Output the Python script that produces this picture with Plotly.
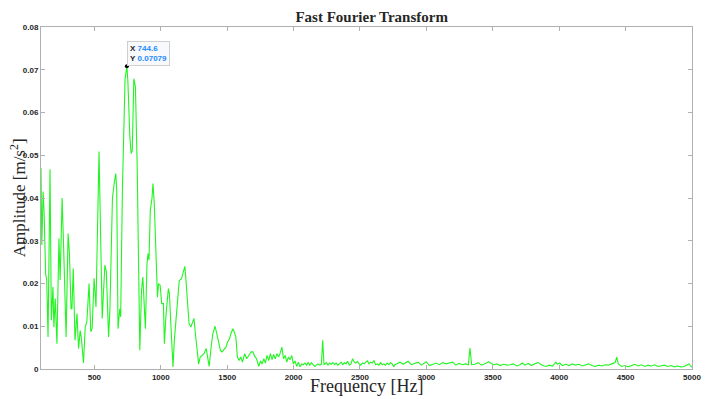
import plotly.graph_objects as go

# single-sided FFT amplitude
freq_hz = [
    98, 104, 114, 121, 133, 141, 151, 166, 176, 188, 195, 205, 218, 233, 242, 257,
    269, 287, 302, 312, 324, 331, 341, 354, 369, 381, 393, 403, 418, 431, 443, 460,
    473, 483, 498, 512, 535, 547, 559, 567, 579, 590, 607, 617, 636, 649, 661, 668,
    678, 691, 698, 711, 723, 731, 744.6, 752, 767, 777, 785, 797, 809, 822, 842, 855,
    865, 877, 884, 896, 904, 911, 921, 934, 941, 951, 963, 975, 983, 995, 1007, 1020,
    1027, 1040, 1057, 1065, 1075, 1092, 1102, 1112, 1127, 1139, 1156, 1168, 1176, 1181,
    1188, 1201, 1213, 1226, 1238, 1250, 1263, 1275, 1285, 1297, 1312, 1325, 1342, 1354,
    1364, 1379, 1392, 1409, 1421, 1434, 1449, 1461, 1474, 1491, 1503, 1518, 1528, 1543,
    1553, 1565, 1577, 1590, 1602, 1615, 1632, 1647, 1664, 1681, 1694, 1706, 1721, 1738,
    1751, 1763, 1776, 1788, 1800, 1813, 1825, 1838, 1850, 1862, 1875, 1887, 1899, 1912,
    1924, 1937, 1949, 1961, 1974, 1986, 1998, 2011, 2023, 2036, 2048, 2060, 2073, 2085,
    2098, 2110, 2122, 2135, 2147, 2160, 2172, 2184, 2197, 2209, 2219, 2229, 2246, 2259,
    2271, 2283, 2296, 2308, 2320, 2333, 2345, 2358, 2370, 2382, 2395, 2407, 2420, 2432,
    2444, 2457, 2469, 2481, 2494, 2506, 2519, 2531, 2543, 2556, 2568, 2581, 2593, 2605,
    2618, 2630, 2643, 2655, 2667, 2680, 2692, 2704, 2717, 2729, 2742, 2754, 2763, 2788,
    2801, 2825, 2850, 2862, 2887, 2912, 2937, 2962, 2986, 2999, 3023, 3048, 3073, 3098,
    3123, 3147, 3172, 3197, 3222, 3246, 3271, 3296, 3316, 3328, 3341, 3365, 3390, 3415,
    3440, 3469, 3489, 3506, 3531, 3556, 3581, 3606, 3630, 3655, 3680, 3705, 3722, 3742,
    3767, 3791, 3816, 3841, 3866, 3876, 3901, 3925, 3950, 3975, 3987, 4005, 4024, 4049,
    4074, 4099, 4123, 4148, 4173, 4198, 4223, 4247, 4272, 4297, 4322, 4346, 4371, 4396,
    4421, 4433, 4445, 4470, 4495, 4520, 4545, 4569, 4594, 4619, 4644, 4669, 4693, 4718,
    4743, 4768, 4792, 4817, 4842, 4867, 4891, 4916, 4941, 4966, 4978, 4990, 5000,
]
amplitude = [
    0.0470, 0.0290, 0.0415, 0.0370, 0.0223, 0.0208, 0.0075, 0.0467, 0.0114, 0.0192,
    0.0098, 0.0165, 0.0059, 0.0305, 0.0208, 0.0400, 0.0278, 0.0075, 0.0317, 0.0270,
    0.0141, 0.0141, 0.0235, 0.0067, 0.0130, 0.0048, 0.0090, 0.0070, 0.0014, 0.0098,
    0.0110, 0.0200, 0.0087, 0.0095, 0.0212, 0.0145, 0.0509, 0.0340, 0.0118, 0.0170,
    0.0243, 0.0227, 0.0075, 0.0140, 0.0400, 0.0434, 0.0457, 0.0420, 0.0094, 0.0141,
    0.0122, 0.0420, 0.0629, 0.0679, 0.07079, 0.0675, 0.0543, 0.0504, 0.0510, 0.0679,
    0.0660, 0.0480, 0.0044, 0.0184, 0.0215, 0.0150, 0.0094, 0.0246, 0.0270, 0.0255,
    0.0371, 0.0400, 0.0434, 0.0387, 0.0293, 0.0168, 0.0200, 0.0196, 0.0153, 0.0153,
    0.0059, 0.0130, 0.0188, 0.0176, 0.0110, 0.0005, 0.0067, 0.0106, 0.0160, 0.0207,
    0.0211, 0.0223, 0.0231, 0.0240, 0.0215, 0.0153, 0.0106, 0.0098, 0.0110, 0.0118,
    0.0075, 0.0031, 0.0012, 0.0028, 0.0032, 0.0036, 0.0048, 0.0020, 0.0006, 0.0051,
    0.0083, 0.0100, 0.0083, 0.0063, 0.0044, 0.0040, 0.0044, 0.0051, 0.0063, 0.0071,
    0.0083, 0.0094, 0.0087, 0.0075, 0.0028, 0.0020, 0.0028, 0.0016, 0.0036, 0.0024,
    0.0032, 0.0040, 0.0040, 0.0030, 0.0024, 0.0006, 0.0019, 0.0012, 0.0024, 0.0014,
    0.0032, 0.0020, 0.0036, 0.0022, 0.0034, 0.0024, 0.0036, 0.0028, 0.0037, 0.0051,
    0.0024, 0.0032, 0.0016, 0.0028, 0.0022, 0.0032, 0.0012, 0.0019, 0.0006, 0.0016,
    0.0005, 0.0012, 0.0010, 0.0014, 0.0009, 0.0016, 0.0009, 0.0015, 0.0010, 0.0006,
    0.0009, 0.0012, 0.0009, 0.0011, 0.0067, 0.0010, 0.0015, 0.0009, 0.0014, 0.0011,
    0.0015, 0.0010, 0.0014, 0.0009, 0.0012, 0.0016, 0.0010, 0.0015, 0.0012, 0.0018,
    0.0009, 0.0012, 0.0024, 0.0016, 0.0014, 0.0018, 0.0012, 0.0009, 0.0014, 0.0012,
    0.0016, 0.0019, 0.0012, 0.0016, 0.0014, 0.0020, 0.0010, 0.0012, 0.0009, 0.0015,
    0.0010, 0.0012, 0.0009, 0.0014, 0.0010, 0.0015, 0.0012, 0.0005, 0.0010, 0.0014,
    0.0016, 0.0011, 0.0015, 0.0018, 0.0010, 0.0013, 0.0016, 0.0009, 0.0014, 0.0017,
    0.0008, 0.0011, 0.0014, 0.0010, 0.0015, 0.0012, 0.0014, 0.0016, 0.0009, 0.0013,
    0.0010, 0.0012, 0.0010, 0.0049, 0.0010, 0.0011, 0.0015, 0.0009, 0.0012, 0.0017,
    0.0013, 0.0010, 0.0012, 0.0008, 0.0011, 0.0009, 0.0010, 0.0012, 0.0007, 0.0010,
    0.0014, 0.0009, 0.0013, 0.0008, 0.0012, 0.0015, 0.0010, 0.0008, 0.0006, 0.0009,
    0.0007, 0.0016, 0.0011, 0.0014, 0.0008, 0.0011, 0.0008, 0.0012, 0.0009, 0.0011,
    0.0007, 0.0010, 0.0012, 0.0008, 0.0006, 0.0009, 0.0007, 0.0010, 0.0009, 0.0012,
    0.0015, 0.0028, 0.0012, 0.0006, 0.0008, 0.0005, 0.0009, 0.0011, 0.0007, 0.0010,
    0.0006, 0.0009, 0.0007, 0.0010, 0.0006, 0.0008, 0.0009, 0.0006, 0.0008, 0.0005,
    0.0007, 0.0005, 0.0006, 0.0010, 0.0012, 0.0007, 0.0004,
]

x_ticks = [500, 1000, 1500, 2000, 2500, 3000, 3500, 4000, 4500, 5000]
y_ticks = [0, 0.01, 0.02, 0.03, 0.04, 0.05, 0.06, 0.07, 0.08]

peak_f = 744.6
peak_a = 0.07079

axis_col = "#b0b0b0"
tick_font = dict(family="Liberation Sans", size=8, color="#262626", weight="bold")
serif = "Liberation Serif"

fig = go.Figure()
fig.add_trace(
    go.Scatter(
        x=freq_hz,
        y=amplitude,
        mode="lines",
        line=dict(color="#22f522", width=1.1),
        hoverinfo="skip",
    )
)
# datatip point
fig.add_trace(
    go.Scatter(
        x=[peak_f],
        y=[peak_a],
        mode="markers",
        marker=dict(color="black", size=4),
        hoverinfo="skip",
    )
)

fig.add_annotation(
    x=peak_f,
    y=peak_a,
    xref="x",
    yref="y",
    xanchor="left",
    yanchor="bottom",
    showarrow=False,
    align="left",
    text=(
        f"<b>X</b> <span style='color:#1a8cff'><b>{peak_f}</b></span><br>"
        f"<b>Y</b> <span style='color:#1a8cff'><b>{peak_a}</b></span>"
    ),
    font=dict(family="Liberation Sans", size=8, color="#262626"),
    bgcolor="rgba(248,249,252,1)",
    bordercolor="#cfcfcf",
    borderwidth=1,
    borderpad=2,
)

# axis labels placed by hand, like matlab does it
fig.add_annotation(
    text="Frequency [Hz]",
    xref="paper", yref="paper",
    x=0.5, y=-0.05,
    xanchor="center", yanchor="middle",
    showarrow=False,
    font=dict(family=serif, size=18, color="#262626"),
)
fig.add_annotation(
    text="Amplitude [m/s<sup>2</sup>]",
    xref="paper", yref="paper",
    x=-0.035, y=0.5,
    xanchor="center", yanchor="middle",
    textangle=-90,
    showarrow=False,
    font=dict(family=serif, size=17, color="#262626"),
)

fig.update_layout(
    width=712,
    height=399,
    autosize=False,
    showlegend=False,
    paper_bgcolor="white",
    plot_bgcolor="white",
    margin=dict(l=41, r=11, t=27, b=30),
    title=dict(
        text="<b>Fast Fourier Transform</b>",
        x=0.522,
        xanchor="center",
        y=0.957,
        yanchor="middle",
        font=dict(family=serif, size=15, color="#262626"),
    ),
    xaxis=dict(
        range=[98, 5000],
        tickvals=x_ticks,
        ticks="inside",
        ticklen=4,
        tickcolor=axis_col,
        showline=True,
        linecolor=axis_col,
        linewidth=1,
        mirror="ticks",
        showgrid=False,
        zeroline=False,
        tickfont=tick_font,
    ),
    yaxis=dict(
        range=[0, 0.08],
        tickvals=y_ticks,
        ticktext=[f"{v:g}" for v in y_ticks],
        ticks="inside",
        ticklen=4,
        tickcolor=axis_col,
        showline=True,
        linecolor=axis_col,
        linewidth=1,
        mirror="ticks",
        showgrid=False,
        zeroline=False,
        tickfont=tick_font,
    ),
)

# page body has a default 8px margin, drop it so the figure fills the window
fig.write_html(
    "out.html",
    config={"displayModeBar": False},
    post_script="document.body.style.margin='0';",
)
